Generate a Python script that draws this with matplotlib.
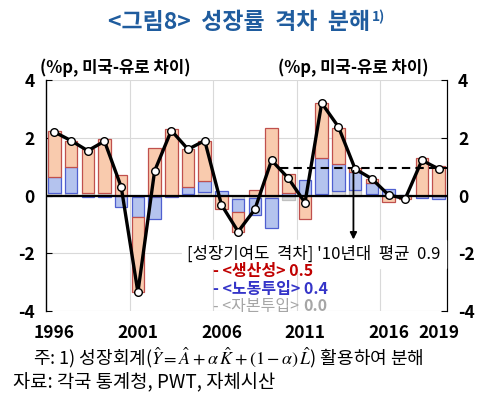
import numpy as np
import matplotlib.pyplot as plt

plt.rcParams['font.family'] = ['Noto Sans CJK KR', 'DejaVu Sans']
plt.rcParams['mathtext.fontset'] = 'stix'
plt.rcParams['axes.unicode_minus'] = False

# Data (%p, US minus Euro area)
years = list(range(1996, 2020))
capital = [0.1, 0.1, 0.1, 0.1, 0.0, -0.05, -0.05, 0.0, 0.05, 0.12, 0.0, -0.12,
           -0.1, -0.1, -0.15, 0.0, 0.05, 0.15, 0.2, 0.05, 0.0, 0.0, 0.0, 0.0]
labor = [0.55, 0.9, -0.05, -0.05, -0.4, -0.7, -0.75, -0.05, 0.25, 0.38, 0.15, -0.45,
         -0.58, -1.03, 0.1, 0.55, 1.25, 0.95, 0.62, 0.38, 0.24, 0.03, -0.08, -0.12]
productivity = [1.6, 0.9, 1.5, 1.85, 0.7, -2.6, 1.65, 2.3, 1.3, 1.4, -0.47, -0.68,
                0.2, 2.35, 0.65, -0.8, 1.9, 1.25, 0.12, 0.15, -0.22, -0.13, 1.3, 1.03]
total = [2.2, 1.9, 1.55, 1.88, 0.3, -3.35, 0.85, 2.25, 1.6, 1.9, -0.32, -1.25,
         -0.48, 1.22, 0.6, -0.25, 3.2, 2.38, 0.92, 0.58, 0.02, -0.11, 1.22, 0.92]
avg_2010s = 0.95
tick_years = [1996, 2001, 2006, 2011, 2016, 2019]

x = np.arange(len(years))

fig = plt.figure(figsize=(5.0, 4.09), dpi=100)
ax = fig.add_axes([0.092, 0.2396, 0.802, 0.5648])

# stacked bars: positives go up, negatives go down
pos_base = np.zeros(len(years))
neg_base = np.zeros(len(years))
series = [(capital, '#D9D9D9', '#BFBFBF'),
          (labor, '#B4C3EE', '#4F5FD0'),
          (productivity, '#F9CBAE', '#C0504D')]
for vals, fc, ec in series:
    v = np.array(vals)
    bottom = np.where(v >= 0, pos_base, neg_base)
    ax.bar(x, v, 0.75, bottom=bottom, color=fc, edgecolor=ec, linewidth=0.9, zorder=2)
    pos_base = pos_base + np.where(v >= 0, v, 0)
    neg_base = neg_base + np.where(v < 0, v, 0)

ax.axhline(0, color='black', lw=1.6, zorder=3)
ax.plot(x, total, color='black', lw=2.4, marker='o', ms=5.5,
        mfc='white', mec='black', mew=1.0, zorder=5)

# 2010s average line and arrow
i10 = years.index(2010)
ax.plot([i10 - 0.5, len(years) - 0.5], [avg_2010s, avg_2010s], color='black',
        lw=1.5, ls=(0, (4, 2.5)), zorder=4)
i14 = years.index(2014)
ax.annotate('', xy=(i14 - 0.1, -1.62), xytext=(i14 - 0.1, avg_2010s),
            arrowprops=dict(arrowstyle='-|>', color='black', lw=1.3,
                            mutation_scale=10), zorder=6)

ax.set_xlim(-0.5, len(years) - 0.5)
ax.set_ylim(-4, 4)
ax.set_yticks([-4, -2, 0, 2, 4])
ax.set_xticks([years.index(y) for y in tick_years])
ax.set_xticklabels([str(y) for y in tick_years], fontsize=12.5, fontweight='bold')
ax.set_xticks([4.5, 9.5, 14.5, 19.5], minor=True)
ax.tick_params(axis='x', which='both', length=0, pad=9)
ax.tick_params(axis='y', direction='in', length=4, labelsize=12.5, pad=8)
for lab in ax.get_yticklabels():
    lab.set_fontweight('bold')
ax.grid(axis='y', color='#D9D9D9', lw=0.8, zorder=0)
ax.grid(axis='x', which='minor', color='#D9D9D9', lw=0.8, zorder=0)
ax.set_axisbelow(True)
for s in ['top', 'bottom']:
    ax.spines[s].set_visible(False)
ax.spines['left'].set_linewidth(1.0)

ax2 = ax.twinx()
ax2.set_ylim(-4, 4)
ax2.set_yticks([-4, -2, 0, 2, 4])
ax2.tick_params(axis='y', direction='in', length=4, labelsize=12.5, pad=8)
for lab in ax2.get_yticklabels():
    lab.set_fontweight('bold')
for s in ['top', 'bottom', 'left']:
    ax2.spines[s].set_visible(False)

# annotation text
fig.text(0.374, 0.378, "[성장기여도  격차] '10년대  평균  0.9", fontsize=12,
         va='center', ha='left', backgroundcolor='white')
fig.text(0.426, 0.337, '- <생산성> 0.5', fontsize=11.5, color='#C00000',
         fontweight='bold', va='center')
fig.text(0.426, 0.294, '- <노동투입> 0.4', fontsize=11.5, color='#3535C8',
         fontweight='bold', va='center')
t_cap = fig.text(0.426, 0.251, '- <자본투입>', fontsize=11.5, color='#A6A6A6',
                 va='center')
ax.annotate('0.0', xy=(1, 0.5), xycoords=t_cap, xytext=(3, 0),
            textcoords='offset points', fontsize=11.5, color='#A6A6A6',
            fontweight='bold', va='center')

# titles and units
t_title = fig.text(0.478, 0.945, '<그림8>  성장률  격차  분해', fontsize=16.5,
                   fontweight='bold', color='#1F5C9E', ha='center', va='center')
ax.annotate('1)', xy=(1, 0.75), xycoords=t_title, xytext=(1, 0),
            textcoords='offset points', fontsize=10, fontweight='bold',
            color='#1F5C9E', va='center')
fig.text(0.08, 0.834, '(%p, 미국-유로 차이)', fontsize=12, fontweight='bold',
         va='center')
fig.text(0.556, 0.834, '(%p, 미국-유로 차이)', fontsize=12, fontweight='bold',
         va='center')

# notes
fig.text(0.066, 0.126,
         r'주: 1) 성장회계($\hat{Y}=\hat{A}+\alpha\,\hat{K}+(1-\alpha)\,\hat{L}$) 활용하여 분해',
         fontsize=13, va='center')
fig.text(0.026, 0.064, '자료: 각국 통계청, PWT, 자체시산', fontsize=13.5, va='center')

fig.savefig('out.png', dpi=100)
